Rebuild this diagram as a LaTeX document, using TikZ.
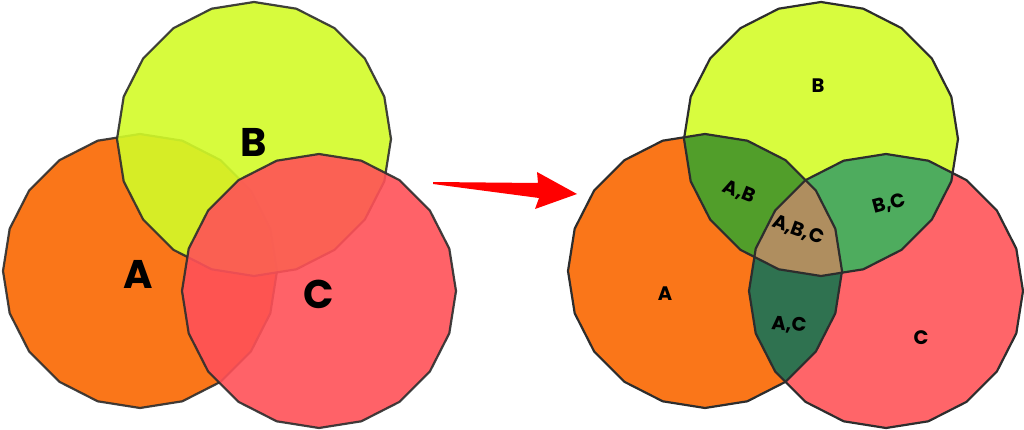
\documentclass[tikz,border=0pt]{standalone}
\usepackage{fontspec}
\setmainfont{Poppins}
\usepackage{xcolor}
\definecolor{CoucheA}  {RGB}{249, 103,   0}
\definecolor{CoucheB}  {RGB}{211, 251,  40}
\definecolor{CoucheC}  {RGB}{255,  81,  88}
\definecolor{ZoneA}    {RGB}{250, 118,  25}
\definecolor{ZoneB}    {RGB}{216, 252,  62}
\definecolor{ZoneC}    {RGB}{255, 101, 105}
\definecolor{ZoneAB}   {RGB}{ 81, 158,  42}
\definecolor{ZoneBC}   {RGB}{ 78, 172,  94}
\definecolor{ZoneAC}   {RGB}{ 47, 114,  80}
\definecolor{ZoneABC}  {RGB}{175, 142,  95}
\definecolor{Contour}  {RGB}{ 45,  45,  45}
\definecolor{Fleche}   {RGB}{255,   0,   0}

% polygone a 20 cotes centre en (#1,#2)
\newcommand{\cercle}[2]{plot[samples=21, domain=0:360, variable=\t]
  ({#1+137*cos(\t)},{#2+137*sin(\t)}) -- cycle}

\begin{document}
\begin{tikzpicture}[
  x=1pt, y=-1pt,
  contour/.style={draw=Contour, line width=2.2pt, line join=round},
  couche/.style={contour, opacity=0.9},
  grand/.style={inner sep=0pt, font=\bfseries\fontsize{40}{40}\selectfont},
  petit/.style={inner sep=0pt, font=\bfseries\fontsize{19.5}{19.5}\selectfont}
]
\useasboundingbox (0,0) rectangle (1024,430);

% Couches superposees
\fill[couche, fill=CoucheA] \cercle{140}{271};
\fill[couche, fill=CoucheB] \cercle{254}{139};
\fill[couche, fill=CoucheC] \cercle{319}{291};

\node[grand] (gA) at (138,274) {A};
\node[grand] (gB) at (254,142) {B};
\node[grand] (gC) at (319,294) {C};

% Fleche
\coordinate (queue) at (433,182);
\coordinate (pointe) at (577,194);
\fill[Fleche] (queue) -- (538,183) -- (537,172) -- (pointe)
  -- (535,209) -- (539,198) -- (433,184) -- cycle;

% Intersections
\fill[ZoneA] \cercle{705}{271};
\fill[ZoneB] \cercle{821}{139};
\fill[ZoneC] \cercle{886}{291};
\begin{scope}
  \clip \cercle{705}{271};
  \fill[ZoneAB] \cercle{821}{139};
  \fill[ZoneAC] \cercle{886}{291};
\end{scope}
\begin{scope}
  \clip \cercle{821}{139};
  \fill[ZoneBC] \cercle{886}{291};
\end{scope}
\begin{scope}
  \clip \cercle{705}{271};
  \clip \cercle{821}{139};
  \fill[ZoneABC] \cercle{886}{291};
\end{scope}
\foreach \cx/\cy in {705/271,821/139,886/291} {
  \draw[contour] \cercle{\cx}{\cy};
}

\node[petit] (pA)   at (665,294) {A};
\node[petit] (pB)   at (818,86)  {B};
\node[petit] (pC)   at (921,338) {C};
\node[petit, rotate=-22] (pAB)  at (739,192) {A,B};
\node[petit, rotate=-20] (pABC) at (798,230) {A,B,C};
\node[petit, rotate=15]  (pBC)  at (889,204) {B,C};
\node[petit, rotate=-5]  (pAC)  at (789,325) {A,C};
\end{tikzpicture}
\end{document}
